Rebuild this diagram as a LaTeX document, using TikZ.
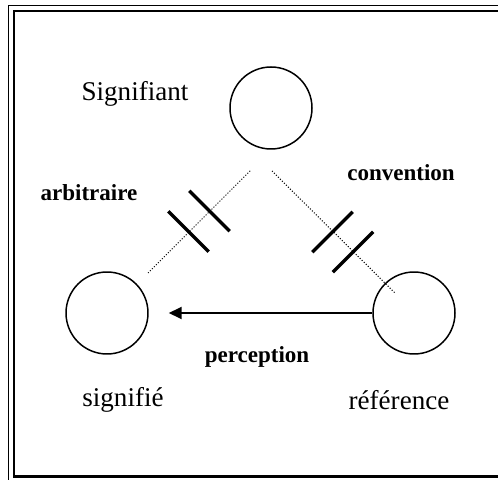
\documentclass[tikz,border=0pt]{standalone}
\usepackage{fontspec}
\setmainfont{Liberation Serif}
\usetikzlibrary{arrows.meta}
\tikzset{
	word/.style={font=\fontsize{15.4}{18}\selectfont},
	boldword/.style={font=\fontsize{13.1}{16}\selectfont\bfseries},
	bar/.style={fill=black,inner sep=0pt,minimum width=1.14cm,minimum height=0.065cm}
}
\begin{document}
\begin{tikzpicture}
	\useasboundingbox (0,0) rectangle (9.96,9.58);
	\clip (0,0) rectangle (9.96,9.58);
	% frame
	\draw[line width=1.1pt] (0.17,9.47) rectangle (10.3,-0.3);
	\draw[line width=1.4pt] (0.28,9.36) rectangle (10.1,0.05);
	% circles
	\node (sa) at (5.42,7.42) [draw,circle,line width=0.85pt,minimum width=1.64cm]{};
	\node (se) at (2.14,3.32) [draw,circle,line width=0.85pt,minimum width=1.64cm]{};
	\node (re) at (8.28,3.32) [draw,circle,line width=0.85pt,minimum width=1.64cm]{};
	% labels
	\node (lsa) at (2.70,7.70) [word]{Signifiant};
	\node (lse) at (2.46,1.58) [word]{signifié};
	\node (lre) at (7.98,1.58) [word]{référence};
	\node (larb) at (1.78,5.72) [boldword]{arbitraire};
	\node (lcon) at (8.02,6.12) [boldword]{convention};
	\node (lper) at (5.14,2.44) [boldword]{perception};
	% dotted links
	\coordinate (a1) at (2.96,4.12);
	\coordinate (a2) at (5.02,6.18);
	\coordinate (c1) at (5.44,6.16);
	\coordinate (c2) at (7.90,3.72);
	\draw[densely dotted,line width=0.6pt] (a1) -- (a2);
	\draw[densely dotted,line width=0.6pt] (c1) -- (c2);
	% bars
	\node (b1) at (3.77,4.95) [bar,rotate=-45]{};
	\node (b2) at (4.19,5.36) [bar,rotate=-45]{};
	\node (b3) at (6.65,4.94) [bar,rotate=45]{};
	\node (b4) at (7.06,4.54) [bar,rotate=45]{};
	% perception
	\draw[line width=1.1pt,-{Triangle[length=0.26cm,width=0.24cm]},shorten >=0.4cm] (re.west) -- (se.east);
\end{tikzpicture}
\end{document}
